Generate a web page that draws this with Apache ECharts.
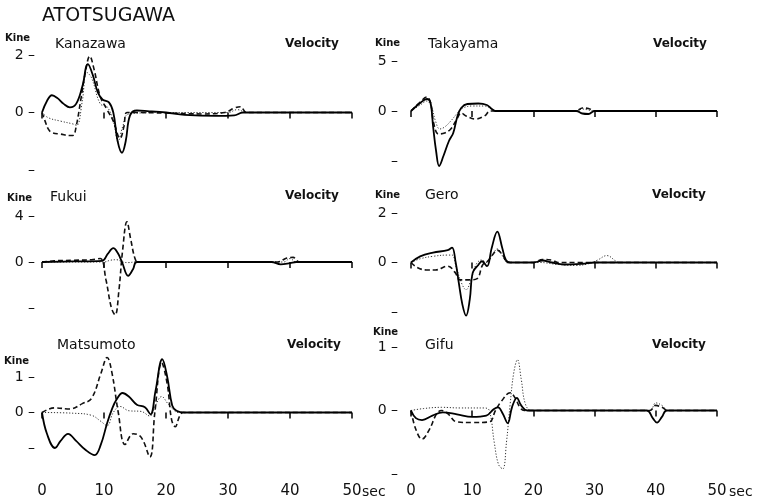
<!DOCTYPE html>
<html>
<head>
<meta charset="utf-8">
<script src="https://cdn.jsdelivr.net/npm/echarts@6/dist/echarts.min.js"></script>
<style>
  html, body { margin: 0; padding: 0; background: #fff; }
  #chart { width: 758px; height: 502px; }
</style>
</head>
<body>
<div id="chart"></div>
<script>
// time ticks (sec)
const timeTicks = [0, 10, 20, 30, 40, 50];

// station names, in panel order
const stations = ['Kanazawa', 'Takayama', 'Fukui', 'Gero', 'Matsumoto', 'Gifu'];
// full scale (Kine) of each panel
const scales = [2, 5, 4, 2, 1, 1];

// [sec, Kine]
const kanazawaSolid = [[0,0],[0.8,0.4],[1.6,0.6],[2.5,0.5],[3.5,0.3],[4.5,0.18],[5.5,0.3],[6.5,0.9],[7.4,1.68],[8.2,1.3],[9,0.7],[9.8,0.45],[10.8,0.35],[11.5,0],[12.2,-1.0],[12.9,-1.4],[13.5,-1.0],[14.2,-0.1],[15.3,0.07],[17,0.05],[20,0],[23,-0.08],[28,-0.12],[31,-0.1],[32.4,0],[50,0]];
const kanazawaDashed = [[0,0],[0.5,-0.3],[1,-0.57],[1.6,-0.7],[3,-0.75],[4.5,-0.8],[5,-0.8],[5.5,-0.5],[6.3,0.5],[7,1.4],[7.7,1.96],[8.4,1.5],[9.4,0.55],[10.5,0.1],[11.5,-0.3],[12.6,-0.9],[13.2,-0.5],[13.7,0],[15,0],[20,-0.02],[26,-0.05],[29.5,0],[31,0.15],[32,0.2],[33,0],[50,0]];
const kanazawaDotted = [[0,0],[1,-0.18],[3,-0.3],[5,-0.4],[5.6,-0.45],[6.5,0.4],[7.2,1.4],[8,1.2],[9.4,0.3],[10.5,0.2],[11.5,-0.3],[12.3,-1.0],[13,-0.5],[14,-0.05],[20,0],[30,0],[31.5,0.1],[33,0],[50,0]];

const takayamaSolid = [[0,0],[1.5,0.8],[2.6,1.2],[3.2,0.8],[3.6,-1.5],[4.1,-4.0],[4.6,-5.5],[5.3,-4.5],[6.2,-3.0],[6.9,-2.2],[7.6,-0.5],[8.2,0.3],[9.2,0.7],[11,0.75],[12.4,0.6],[13.2,0.2],[13.8,0],[20,0],[27,0],[28,-0.25],[29,-0.3],[30,0],[50,0]];
const takayamaDashed = [[0,0],[1.5,0.9],[2.6,1.4],[3.2,0.8],[3.7,-1.2],[4.5,-2.3],[5.5,-2.2],[6.5,-1.8],[7.5,-0.8],[8.2,-0.2],[9,-0.5],[10.5,-0.8],[12,-0.5],[13,0],[27,0],[28,0.3],[29,0.25],[30,0],[50,0]];
const takayamaDotted = [[0,0],[1.5,0.6],[2.6,1.0],[3.4,0.3],[4,-1.0],[4.7,-1.8],[5.5,-1.6],[6.5,-1.0],[7.6,-0.2],[8.5,0.3],[10,0.5],[12,0.5],[13.5,0.1],[14,0],[27,0],[28,0.2],[29,0.1],[30,0],[50,0]];

const fukuiSolid = [[0,0],[5,0.05],[9.7,0.1],[10.6,0.7],[11.5,1.2],[12.2,0.8],[12.9,0],[13.9,-1.2],[14.7,-0.6],[15.3,0],[37,0],[38.5,-0.2],[40,-0.1],[41,0],[50,0]];
const fukuiDashed = [[0,0],[2,0.1],[5,0.15],[8,0.2],[9.4,0.3],[10.3,-1.5],[11.2,-4.0],[11.8,-4.6],[12.4,-2.5],[13,1.0],[13.7,3.5],[14.3,2.0],[15,0.3],[15.5,0],[38,0],[39.5,0.35],[40.5,0.4],[41.5,0],[50,0]];
const fukuiDotted = [[0,0],[10,0],[11,0.15],[12,0.2],[13,0],[14,-0.05],[15,0],[39,0],[40,0.3],[41,0],[50,0]];

const geroSolid = [[0,0],[1.5,0.25],[3.6,0.4],[6,0.5],[6.7,0.6],[7.3,0],[7.8,-0.8],[8.4,-1.7],[9,-2.15],[9.6,-1.5],[10.1,-0.4],[11,-0.1],[11.6,0.05],[12.4,-0.15],[13.2,0.6],[14.1,1.25],[14.9,0.6],[15.5,0.1],[16.2,0],[20,0],[21.5,0.08],[23,0],[25,-0.08],[28,-0.05],[30,0],[50,0]];
const geroDashed = [[0,0],[1,-0.2],[2.5,-0.3],[4,-0.3],[6,-0.15],[7.2,-0.4],[8,-0.7],[9.5,-0.7],[10.8,-0.65],[11.7,-0.1],[12.5,0.05],[13.3,0.3],[14.1,0.5],[15,0.3],[15.8,0],[20,0],[21.5,0.12],[23,0.1],[24,0],[50,0]];
const geroDotted = [[0,0],[1.5,0.15],[3.6,0.25],[6,0.3],[6.7,0.3],[7.4,-0.2],[8.2,-0.8],[9,-1.1],[9.8,-0.7],[10.6,-0.1],[11.5,0.1],[12.4,0],[13.3,0.3],[14.1,0.55],[15,0.25],[15.8,0],[21,0],[24,-0.08],[27,-0.12],[29,-0.05],[30.5,0.1],[32,0.28],[33.5,0.05],[34,0],[50,0]];

const matsumotoSolid = [[0,0],[0.8,-0.6],[2.1,-1.0],[3,-0.8],[4.2,-0.6],[5.5,-0.8],[7,-1.05],[8.5,-1.2],[9.5,-0.9],[10.5,-0.3],[11.3,0.1],[12,0.36],[13,0.55],[14,0.45],[15.3,0.22],[16.6,0.15],[17.5,-0.05],[18.3,0.6],[19.4,1.5],[20.2,1.0],[21,0.2],[21.7,0.05],[23,0],[50,0]];
const matsumotoDashed = [[0,0],[2,0.13],[4.5,0.1],[6.5,0.25],[8,0.4],[9.5,1.1],[10.5,1.55],[11.3,1.1],[12.3,0],[13.4,-0.9],[14.7,-0.6],[16,-0.7],[17.4,-1.25],[18.2,0],[19.3,1.4],[20.2,0.8],[20.9,-0.2],[21.5,-0.4],[22.2,-0.1],[22.8,0],[50,0]];
const matsumotoDotted = [[0,0],[5,-0.02],[8,-0.08],[9.5,-0.25],[10.5,-0.37],[11.5,0],[12.6,0.17],[14,0.05],[16,0.03],[17.4,-0.1],[18.3,0.2],[19.3,0.45],[20.3,0.25],[21.5,0.03],[22,0],[50,0]];

const gifuSolid = [[0,0],[0.8,-0.12],[1.8,-0.15],[3.5,-0.08],[5.2,-0.03],[7.5,-0.06],[10,-0.1],[12.3,-0.08],[13.5,0.02],[14.2,0.05],[15,-0.05],[15.8,-0.2],[16.5,0.05],[17.3,0.2],[18,0.08],[19,0],[38.5,0],[39.5,-0.12],[40.2,-0.19],[41,-0.1],[41.8,0],[50,0]];
const gifuDashed = [[0,0],[0.8,-0.3],[1.8,-0.45],[3,-0.3],[4.2,-0.05],[5,0],[6,-0.05],[7.5,-0.18],[10,-0.19],[12.8,-0.18],[13.8,0],[14.8,0.15],[16.2,0.28],[17,0.2],[17.8,0.05],[18.5,0],[39,0],[40,0.08],[41,0.05],[42,0],[50,0]];
const gifuDotted = [[0,0],[2,0.03],[5,0.05],[8,0.04],[12,0.04],[12.8,0],[13.6,-0.5],[14.3,-0.85],[15,-0.92],[15.6,-0.5],[16.2,0.1],[16.8,0.6],[17.4,0.8],[18,0.5],[18.7,0.1],[19.7,0],[39,0],[40,0.12],[41,0.08],[42,0],[50,0]];

const traces = [
  [kanazawaSolid, kanazawaDashed, kanazawaDotted],
  [takayamaSolid, takayamaDashed, takayamaDotted],
  [fukuiSolid, fukuiDashed, fukuiDotted],
  [geroSolid, geroDashed, geroDotted],
  [matsumotoSolid, matsumotoDashed, matsumotoDotted],
  [gifuSolid, gifuDashed, gifuDotted],
];

// layout of each panel: pixel rows of the +scale and -scale levels, tick row offset
const panels = [
  { left: 42, width: 310, top: 55, bot: 170, tickOff: 2, margin: 7 },
  { left: 411, width: 306, top: 61, bot: 161, tickOff: 11, margin: 13 },
  { left: 42, width: 310, top: 216, bot: 308, tickOff: 13, margin: 7 },
  { left: 411, width: 306, top: 213, bot: 312, tickOff: 9, margin: 13 },
  { left: 42, width: 310, top: 377, bot: 448, tickOff: 24, margin: 7 },
  { left: 411, width: 306, top: 347, bot: 474, tickOff: -2, margin: 13 },
];

const font = '"DejaVu Sans", sans-serif';
const ink = '#111';

const grid = [], xAxis = [], yAxis = [], series = [];
panels.forEach((p, i) => {
  const s = scales[i];
  grid.push({ left: p.left, width: p.width, top: p.top, height: p.bot - p.top });
  xAxis.push({
    gridIndex: i, type: 'value', min: 0, max: 50, interval: 10,
    offset: p.tickOff,
    axisLine: { show: false },
    axisTick: { show: true, length: 6, lineStyle: { color: ink, width: 1.6 } },
    splitLine: { show: false },
    axisLabel: {
      show: i >= 4, margin: 12, color: ink, fontFamily: font, fontSize: 15,
    },
  });
  yAxis.push({
    gridIndex: i, type: 'value', min: -s, max: s, interval: s,
    axisLine: { show: false },
    axisTick: { show: false },
    splitLine: { show: false },
    axisLabel: {
      margin: p.margin, color: ink, fontFamily: font, fontSize: 14,
      formatter: v => (v === -s ? '–' : v + ' –'),
    },
  });
  const [solid, dashed, dotted] = traces[i];
  const base = { type: 'line', xAxisIndex: i, yAxisIndex: i, showSymbol: false, smooth: 0.4, clip: false, silent: true };
  series.push({ ...base, data: dotted, lineStyle: { color: '#333', width: 1, type: [1.2, 1.8] } });
  series.push({ ...base, data: dashed, lineStyle: { color: ink, width: 1.6, type: [5, 3] } });
  series.push({ ...base, data: solid, lineStyle: { color: '#000', width: 1.8 } });
});

// text placed over the panels
const labelPos = [
  { name: [55, 44], kine: [5, 38], vel: [285, 44] },
  { name: [428, 44], kine: [375, 43], vel: [653, 44] },
  { name: [50, 197], kine: [7, 198], vel: [285, 196] },
  { name: [425, 195], kine: [375, 195], vel: [652, 195] },
  { name: [57, 345], kine: [4, 361], vel: [287, 345] },
  { name: [425, 345], kine: [373, 332], vel: [652, 345] },
];

const txt = (text, x, y, size, weight) => ({
  type: 'text', x, y, silent: true,
  style: { text, fill: ink, font: `${weight || 'normal'} ${size}px ${font}`, verticalAlign: 'middle' },
});

const graphic = [txt('ATOTSUGAWA', 42, 16, 19)];
labelPos.forEach((p, i) => {
  graphic.push(txt(stations[i], p.name[0], p.name[1], 14));
  graphic.push(txt('Kine', p.kine[0], p.kine[1], 10, 'bold'));
  graphic.push(txt('Velocity', p.vel[0], p.vel[1], 12, 'bold'));
});
graphic.push(txt('sec', 362, 492, 14));
graphic.push(txt('sec', 729, 492, 14));

const chart = echarts.init(document.getElementById('chart'));
chart.setOption({
  animation: false,
  backgroundColor: '#fff',
  grid, xAxis, yAxis, series, graphic,
});
</script>
</body>
</html>
